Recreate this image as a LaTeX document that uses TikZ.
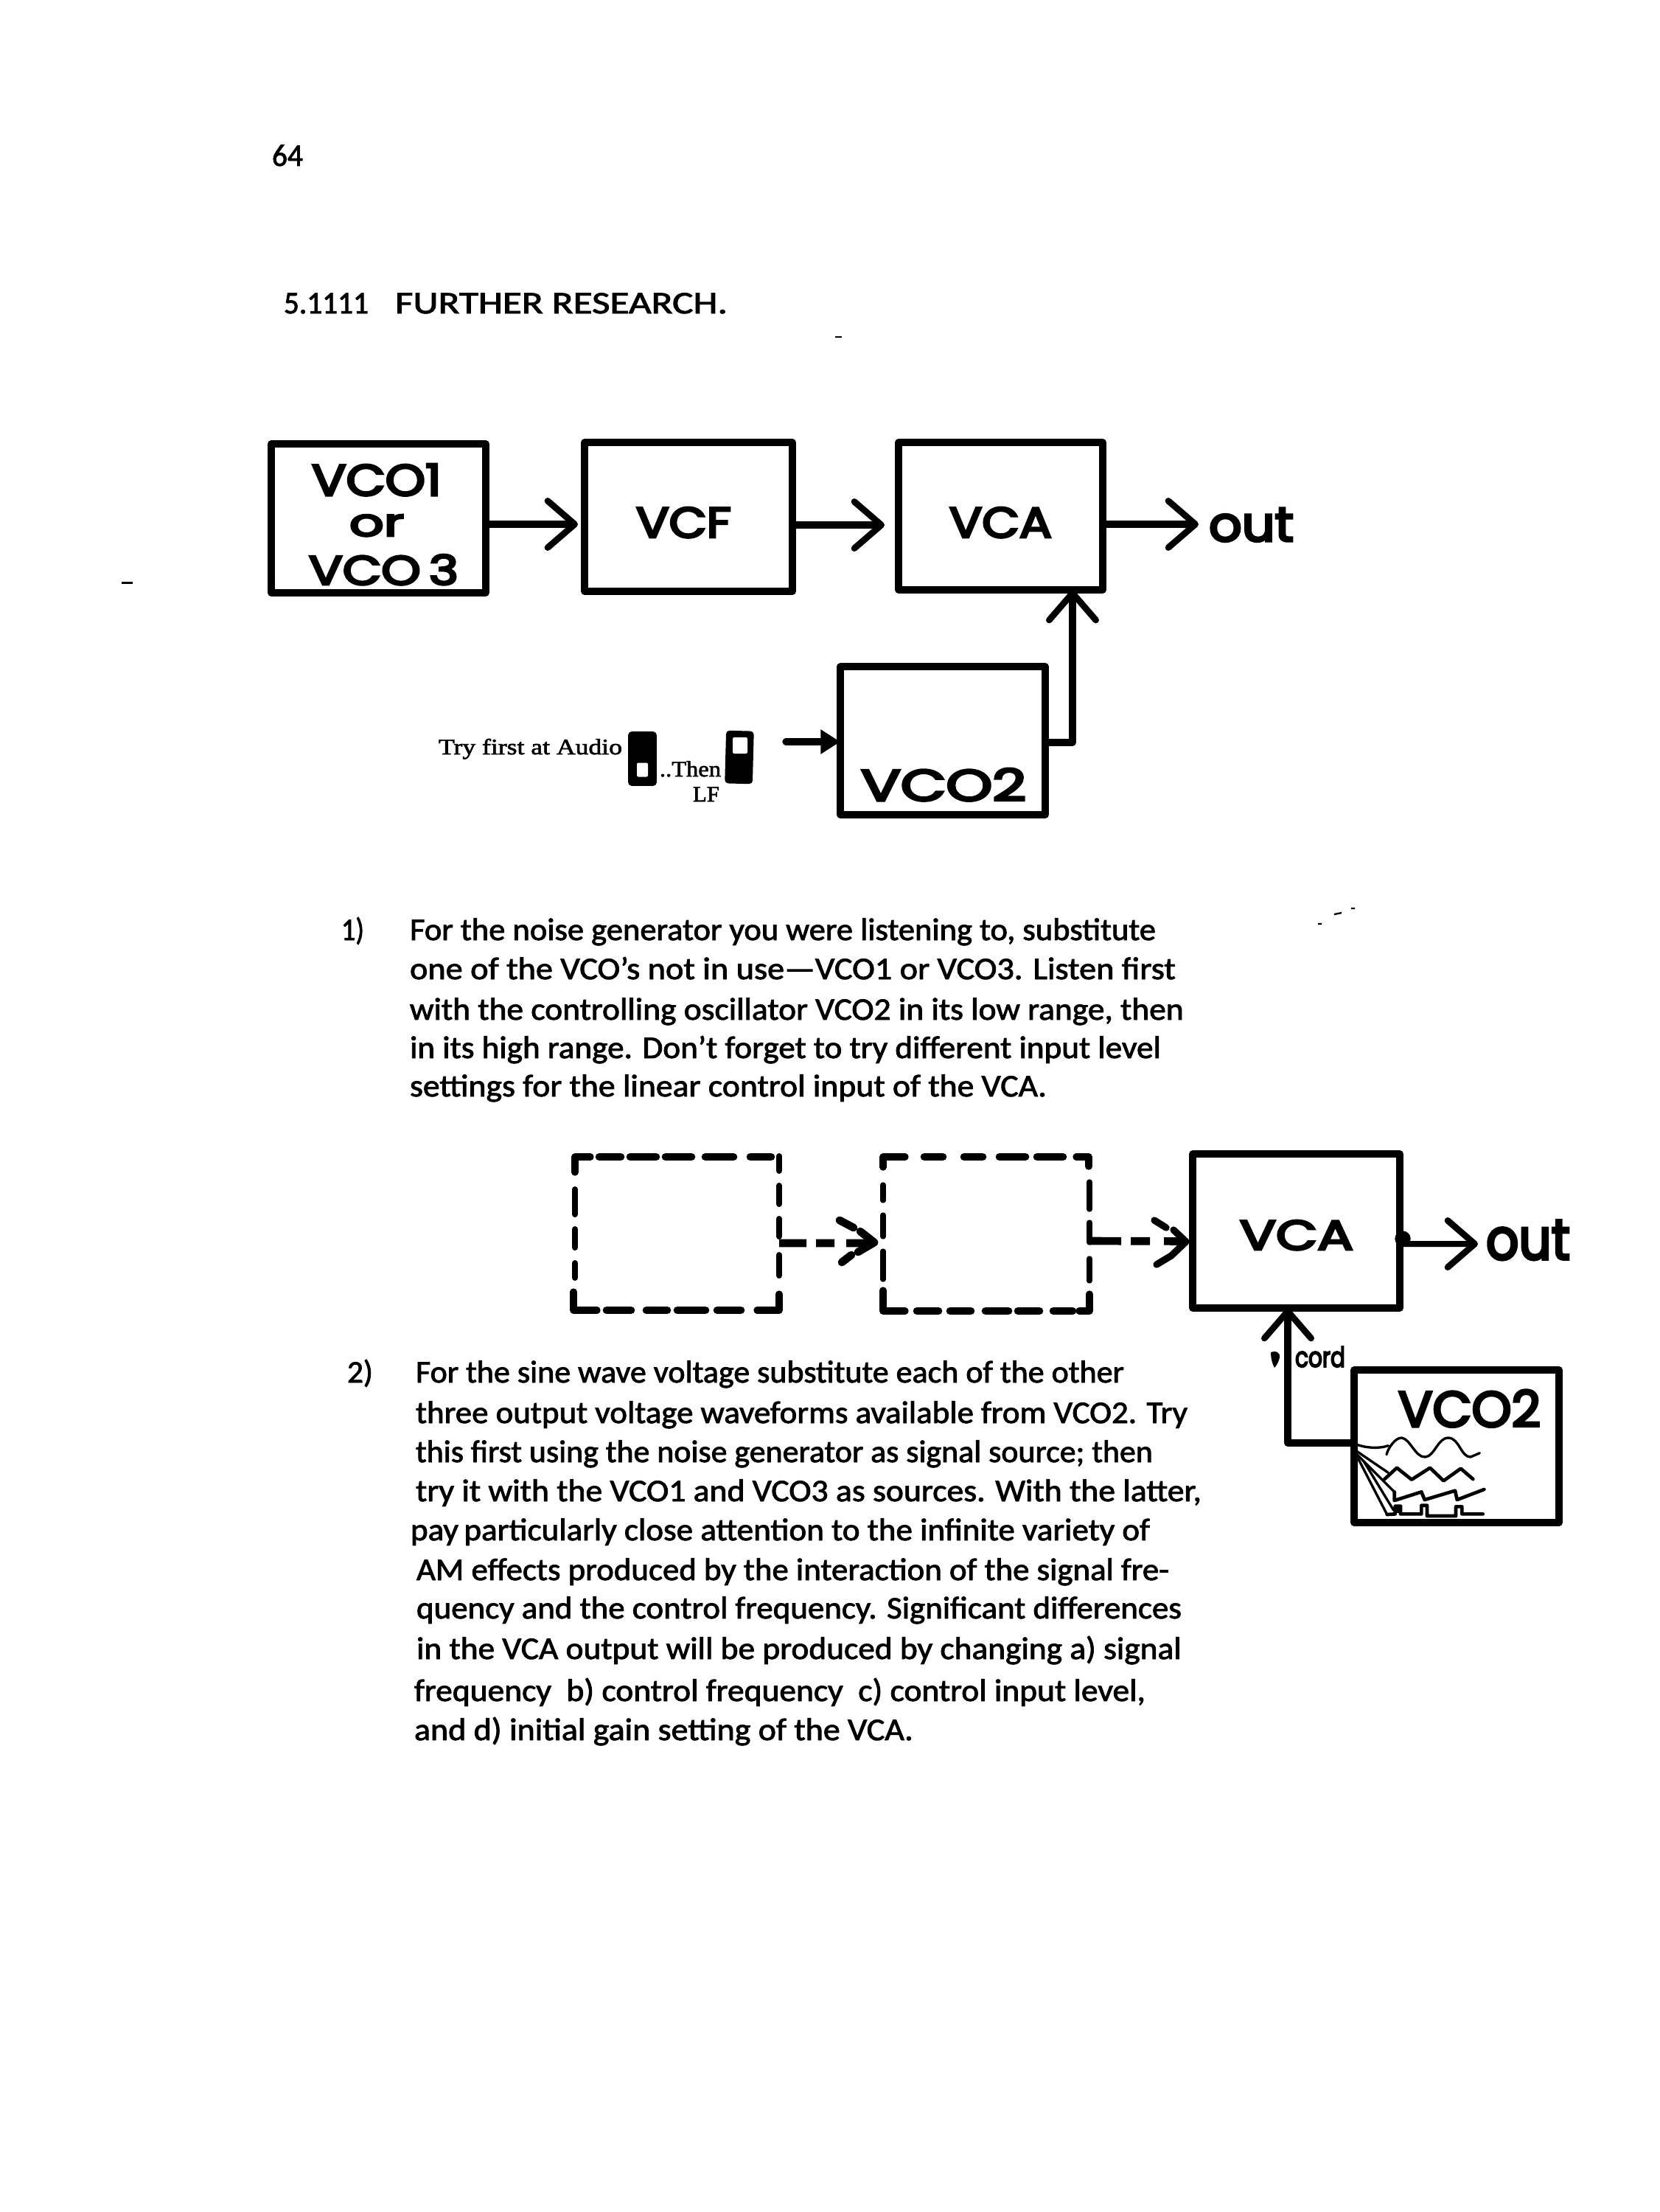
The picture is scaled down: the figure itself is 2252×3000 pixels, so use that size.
\documentclass[tikz,border=0pt]{standalone}
\usepackage{fontspec}
\usepackage{graphicx}
\usetikzlibrary{arrows.meta,calc}
\setmainfont{Carlito}
\newfontfamily\bodyf[FakeBold=2]{Carlito}
\newfontfamily\handf[FakeBold=5]{Poppins}
\newfontfamily\smallf[FakeBold=2]{Liberation Serif}
\newdimen\pxu \pxu=0.3pt
\newcommand{\fitwh}[3]{\resizebox{#1\pxu}{#2\pxu}{#3}}
\newcommand{\fitw}[2]{\resizebox{#1\pxu}{\height}{#2}}
\tikzset{
  blockbox/.style={draw=black,line width=2.8pt,fill=white,outer sep=0pt,inner sep=0pt,line join=round},
  spotbox/.style={outer sep=0pt,inner sep=0pt,draw=none},
  bodytxt/.style={anchor=base west,inner sep=0pt,outer sep=0pt,font=\fontsize{12.8pt}{14pt}\bodyf},
  handtxt/.style={anchor=base west,inner sep=0pt,outer sep=0pt,font=\fontsize{16pt}{18pt}\handf},
  serifsmall/.style={anchor=base west,inner sep=0pt,outer sep=0pt,font=\fontsize{9pt}{10pt}\smallf},
  conn/.style={draw=black,line width=2.8pt,line join=round},
  chevron/.style={conn,-{Straight Barb[length=11pt,width=19pt,line width=2.6pt,round]}},
  seg/.style={draw=black,line width=3.2pt,line cap=round,line join=round},
  vseg/.style={draw=black,line width=2.8pt,line cap=round,line join=round},
  wave/.style={draw=black,line width=1pt,line join=round,line cap=round},
  switchbody/.style={fill=black,draw=black,line width=.5pt,rounded corners=1.2pt,inner sep=0pt,outer sep=0pt},
  switchhole/.style={fill=white,draw=none,rounded corners=.6pt,inner sep=0pt,outer sep=0pt},
  speck/.style={draw=black,line width=.5pt},
}
\begin{document}
\begin{tikzpicture}[x=0.3pt,y=-0.3pt]
\useasboundingbox (0,0) rectangle (2252,3000);
\fill[white] (0,0) rectangle (2252,3000);

% headings
\node[bodytxt] (pageno) at (369,225) {\fitw{42}{64}};
\node[bodytxt] (headnum) at (385,425) {\fitw{115}{5.1111}};
\node[bodytxt] (heading) at (536,425) {\fitw{451}{FURTHER RESEARCH.}};

% top diagram
\node[blockbox,minimum width=291*\pxu,minimum height=202*\pxu] (vco1) at (513.5,703) {};
\node[blockbox,minimum width=282*\pxu,minimum height=202*\pxu] (vcf) at (934,701) {};
\node[blockbox,minimum width=277*\pxu,minimum height=200*\pxu] (vca) at (1357.5,700) {};
\node[blockbox,minimum width=278*\pxu,minimum height=201*\pxu] (vco) at (1279,1004.5) {};
\node[handtxt] (t1) at (423,672) {\fitwh{176}{43}{VCO1}};
\node[handtxt] (t2) at (474,727) {\fitwh{74}{29}{or}};
\node[handtxt] (t3) at (419,793) {\fitwh{203}{41}{VCO\,3}};
\node[handtxt] (t4) at (863,729) {\fitwh{129}{41}{VCF}};
\node[handtxt] (t5) at (1288,729) {\fitwh{139}{41}{VCA}};
\node[handtxt] (t6) at (1168,1086) {\fitwh{224}{44}{VCO2}};
\node[handtxt] (out1) at (1640,734) {\fitwh{115}{45}{out}};
\coordinate (outend1) at (1636,711);
\draw[chevron,shorten >=9*\pxu] ([yshift=-8*\pxu]vco1.east) -- ([yshift=-10*\pxu]vcf.west);
\draw[chevron,shorten >=19*\pxu] ([yshift=-11*\pxu]vcf.east) -- ([yshift=-12*\pxu]vca.west);
\draw[chevron,shorten >=10*\pxu] ([yshift=-11*\pxu]vca.east) -- (outend1);
\draw[chevron] ([yshift=-2.5*\pxu]vco.east) -| ([xshift=97.5*\pxu]vca.south);

% switches
\node[serifsmall] (try) at (595,1023) {\fitw{249}{Try first at Audio}};
\node[switchbody,minimum width=37*\pxu,minimum height=72*\pxu] (sw1) at (871.5,1029) {};
\node[switchhole,minimum width=15*\pxu,minimum height=19*\pxu] (sw1h) at (871.5,1044) {};
\node[serifsmall] (then) at (895,1053) {\fitw{83}{..Then}};
\node[serifsmall] (lf) at (940,1087) {\fitw{36}{LF}};
\node[switchbody,rotate=-1.5,minimum width=36*\pxu,minimum height=70*\pxu] (sw2) at (1003,1027) {};
\node[switchhole,minimum width=20*\pxu,minimum height=22*\pxu] (sw2h) at (1004,1011) {};
\coordinate (swout) at (1066,1006);
\draw[conn,line cap=round,-{Triangle[length=8pt,width=9.5pt]}] (swout) -- (vco.west |- swout);

% paragraph 1
\node[bodytxt] (n1) at (463,1275) {\fitw{31}{1)}};
\node[bodytxt] (a1) at (556,1275) {\fitw{1012}{For the noise generator you were listening to, substitute}};
\node[bodytxt] (a2) at (556,1328) {\fitw{1039}{one of the VCO’s not in use—VCO1 or VCO3. Listen first}};
\node[bodytxt] (a3) at (556,1383) {\fitw{1050}{with the controlling oscillator VCO2 in its low range, then}};
\node[bodytxt] (a4) at (556,1435) {\fitw{1019}{in its high range. Don’t forget to try different input level}};
\node[bodytxt] (a5) at (556,1487) {\fitw{864}{settings for the linear control input of the VCA.}};

% second diagram
\node[spotbox,minimum width=277*\pxu,minimum height=208*\pxu] (d1) at (918.5,1673) {};
\node[spotbox,minimum width=280*\pxu,minimum height=209*\pxu] (d2) at (1338,1673.5) {};
\node[blockbox,minimum width=281*\pxu,minimum height=209*\pxu] (vcab) at (1758.5,1669.5) {};
\node[blockbox,minimum width=278*\pxu,minimum height=207*\pxu] (vcob) at (1976,1961.5) {};
\node[handtxt] (t7) at (1682,1695) {\fitwh{154}{40}{VCA}};
\node[handtxt] (out2) at (2016,1708) {\fitwh{114}{53}{out}};
\node[handtxt] (t8) at (1897,1935) {\fitwh{193}{50}{VCO2}};
\node[handtxt] (cord) at (1757,1854) {\fitwh{68}{28}{cord}};
\coordinate (outend2) at (2014,1687);

% dashed box 1
\draw[vseg] (780,1590) -- (780,1569) -- (801,1569);
\foreach \a/\b in {813/842,855/890,903/938,957/995,1018/1046} \draw[seg] (\a,1569) -- (\b,1569);
\foreach \a/\b in {1568/1588,1608/1633,1653/1677,1702/1730} \draw[vseg,line width=2.4pt] (1057,\a) -- (1057,\b);
\draw[vseg] (1057,1755) -- (1057,1777) -- (1027,1777);
\foreach \a/\b in {973/1005,919/957,877/905,823/856} \draw[seg] (\a,1777) -- (\b,1777);
\draw[vseg] (778,1752) -- (778,1777) -- (810,1777);
\foreach \a/\b in {1613/1647,1667/1692,1713/1733} \draw[vseg,line width=2.4pt] (780,\a) -- (780,\b);
% dashed box 2
\draw[vseg] (1198,1583) -- (1198,1569) -- (1228,1569);
\foreach \a/\b in {1254/1279,1308/1333,1356/1391,1407/1442} \draw[seg] (\a,1569) -- (\b,1569);
\draw[vseg] (1460,1569) -- (1477,1569) -- (1477,1582);
\foreach \a/\b in {1603/1640,1658/1685,1707/1737} \draw[vseg,line width=2.2pt] (1478,\a) -- (1478,\b);
\draw[vseg] (1478,1755) -- (1478,1778) -- (1464,1778);
\foreach \a/\b in {1429/1455,1381/1410,1337/1368,1289/1317,1244/1273} \draw[seg] (\a,1778) -- (\b,1778);
\draw[vseg] (1198,1750) -- (1198,1778) -- (1228,1778);
\foreach \a/\b in {1607/1628,1648/1677,1697/1735} \draw[vseg,line width=2.2pt] (1198,\a) -- (1198,\b);
% dashed connectors
\draw[conn,line width=3.2pt,dash pattern=on 11.1pt off 3.9pt on 7.5pt off 4.8pt on 11.4pt,shorten >=12*\pxu] ([yshift=-13*\pxu]d1.east) -- ([yshift=-12.5*\pxu]d2.west);
\draw[conn,line width=3.2pt,dash pattern=on 12.9pt off 3.9pt on 7.8pt off 5.7pt on 9pt,shorten >=9*\pxu] ([yshift=-9.5*\pxu]d2.east) -- ([yshift=-14*\pxu]vcab.west);
\draw[seg] (1139,1655) -- (1158,1665);
\draw[seg] (1167,1670) -- (1186,1685) -- (1164,1698);
\draw[seg] (1155,1702) -- (1142,1712);
\draw[seg,line width=2.8pt] (1566,1655) -- (1582,1665);
\draw[seg,line width=2.8pt] (1592,1668) -- (1609,1684) -- (1589,1703) -- (1569,1715);

% VCA out, VCO2 in second diagram
\draw[chevron,line width=2.4pt,shorten >=9*\pxu] ([yshift=-17.5*\pxu]vcab.east) -- (outend2);
\fill (1903,1680) circle[radius=3.2pt];
\draw[chevron] ([yshift=4.5*\pxu]vcob.west) -| ([xshift=-11.5*\pxu]vcab.south);

% cord mark
\fill (1724,1834) .. controls (1730,1831) and (1737,1834) .. (1736,1841) .. controls (1735,1846) and (1732,1852) .. (1729,1855) .. controls (1726,1850) and (1724,1842) .. (1724,1834) -- cycle;

\begin{scope}[shift={(1650,1740)},x=0.1pt,y=-0.1pt]
\draw[wave] (565,655) .. controls (610,672) and (660,675) .. (700,662);
\draw[wave] (693,698) .. controls (700,670) and (730,628) .. (755,630)
  .. controls (790,635) and (810,710) .. (850,708)
  .. controls (890,705) and (900,630) .. (945,630)
  .. controls (990,632) and (995,708) .. (1035,708) -- (1072,692);
\draw[wave] (565,680) -- (700,772);
\draw[wave,line width=1.4pt] (685,798) -- (735,752) -- (795,800) -- (870,752) -- (925,805) -- (995,755) -- (1045,798);
\draw[wave] (575,700) -- (725,850);
\draw[wave,line width=1.4pt] (725,850) -- (725,885) -- (835,850) -- (848,882) -- (972,845) -- (980,882) -- (1090,840);
\draw[wave] (570,700) -- (695,942);
\draw[wave] (600,725) -- (722,925);
\draw[wave,line width=1.4pt] (695,942) -- (728,940) -- (728,908) -- (750,908) -- (750,940) -- (835,940) -- (835,905) -- (858,905) -- (858,948) -- (975,948) -- (975,910) -- (1000,910) -- (1000,940) -- (1085,940);
\fill (725,935) -- (725,905) -- (752,905) -- (752,935) -- cycle;
\end{scope}

% paragraph 2
\node[bodytxt] (n2) at (471,1875) {\fitw{35}{2)}};
\node[bodytxt] (b1) at (564,1875) {\fitw{961}{For the sine wave voltage substitute each of the other}};
\node[bodytxt] (b2) at (564,1930) {\fitw{1047}{three output voltage waveforms available from VCO2. Try}};
\node[bodytxt] (b3) at (564,1983) {\fitw{1000}{this first using the noise generator as signal source; then}};
\node[bodytxt] (b4) at (564,2036) {\fitw{1066}{try it with the VCO1 and VCO3 as sources. With the latter,}};
\node[bodytxt] (b5) at (557,2089) {\fitw{1003}{pay\,particularly close attention to the infinite variety of}};
\node[bodytxt] (b6) at (565,2143) {\fitw{1021}{AM effects produced by the interaction of the signal fre-}};
\node[bodytxt] (b7) at (565,2195) {\fitw{1038}{quency and the control frequency. Significant differences}};
\node[bodytxt] (b8) at (565,2250) {\fitw{1038}{in the VCA output will be produced by changing a) signal}};
\node[bodytxt] (b9) at (562,2307) {\fitw{992}{frequency~ b) control frequency~ c) control input level,}};
\node[bodytxt] (b10) at (562,2360) {\fitw{677}{and d) initial gain setting of the VCA.}};

% specks
\draw[speck,line width=.9pt] (165,790) -- (180,790);
\draw[speck,line width=.7pt] (1133,457) -- (1142,457);
\draw[speck,line width=.7pt] (1788,1253) -- (1793,1253) (1810,1240) -- (1820,1238) (1833,1232) -- (1838,1232);
\end{tikzpicture}
\end{document}
